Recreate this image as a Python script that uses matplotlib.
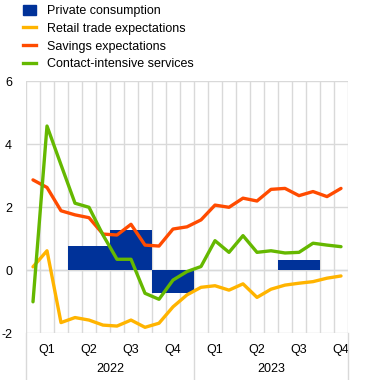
import matplotlib
matplotlib.use("Agg")
import matplotlib.pyplot as plt
from matplotlib.patches import Patch
from matplotlib.lines import Line2D
import numpy as np

plt.rcParams['font.family'] = ['Liberation Sans', 'DejaVu Sans']
plt.rcParams['axes.unicode_minus'] = False

# monthly data, Jan 2022 - Nov 2023
retail = [0.11, 0.62, -1.66, -1.50, -1.58, -1.74, -1.77, -1.58, -1.81, -1.68, -1.16, -0.78,
          -0.54, -0.49, -0.63, -0.43, -0.86, -0.60, -0.47, -0.41, -0.36, -0.25, -0.18]
savings = [2.87, 2.63, 1.89, 1.76, 1.67, 1.15, 1.12, 1.46, 0.80, 0.77, 1.31, 1.38,
           1.60, 2.07, 2.00, 2.29, 2.20, 2.57, 2.60, 2.37, 2.50, 2.34, 2.60]
contact = [-1.00, 4.58, 3.35, 2.13, 2.00, 1.12, 0.35, 0.35, -0.73, -0.92, -0.31, -0.04,
           0.12, 0.94, 0.57, 1.10, 0.57, 0.62, 0.55, 0.57, 0.86, 0.80, 0.75]

# quarterly private consumption, Q1 2022 - Q4 2023
consumption = [0.0, 0.78, 1.28, -0.73, 0.0, 0.0, 0.34, np.nan]
quarter_labels = ['Q1', 'Q2', 'Q3', 'Q4', 'Q1', 'Q2', 'Q3', 'Q4']
years = ['2022', '2023']

blue = '#003299'
yellow = '#FFB400'
red = '#FF4B00'
green = '#65B800'
grid = '#d9d9d9'

fig = plt.figure(figsize=(3.72, 3.80), dpi=100)
ax = fig.add_axes([26 / 372, 1 - 333.3 / 380, 322 / 372, 252 / 380])

months = np.arange(len(retail))
qpos = np.arange(len(consumption)) * 3 + 1

ax.bar(qpos, consumption, width=3, color=blue, zorder=2)
ax.axhline(0, color='#5b77b0', lw=0.8, zorder=1.5)
ax.plot(months, retail, color=yellow, lw=2.4, zorder=3, solid_capstyle='round')
ax.plot(months, savings, color=red, lw=2.4, zorder=3, solid_capstyle='round')
ax.plot(months, contact, color=green, lw=2.4, zorder=3, solid_capstyle='round')

ax.set_xlim(-0.5, 22.5)
ax.set_ylim(-2, 6)
ax.set_yticks([-2, 0, 2, 4, 6])
ax.set_xticks(qpos)
ax.set_xticklabels(quarter_labels)
ax.set_xticks(np.arange(-0.5, 23, 1), minor=True)
ax.grid(which='minor', axis='x', color=grid, lw=1, zorder=0)
ax.grid(which='major', axis='y', color=grid, lw=1, zorder=0)
ax.tick_params(which='both', length=0, labelsize=9, colors='black')
ax.tick_params(axis='x', pad=8)
ax.tick_params(axis='y', pad=10)
for s in ax.spines.values():
    s.set_visible(False)

# separators below the axis and year labels
trans = ax.get_xaxis_transform()
for xb in [-0.5, 11.5, 22.5]:
    ax.add_line(Line2D([xb, xb], [0, -0.2], transform=trans, color=grid, lw=1, clip_on=False))
ax.text(5.5, -0.14, years[0], transform=trans, ha='center', va='center', fontsize=9)
ax.text(17, -0.14, years[1], transform=trans, ha='center', va='center', fontsize=9)

handles = [Patch(color=blue),
           Line2D([], [], color=yellow, lw=2.4),
           Line2D([], [], color=red, lw=2.4),
           Line2D([], [], color=green, lw=2.4)]
labels = ['Private consumption', 'Retail trade expectations', 'Savings expectations',
          'Contact-intensive services']
fig.legend(handles, labels, loc='upper left', bbox_to_anchor=(18 / 372, 1.0), frameon=False,
           fontsize=9, handlelength=1.0, handleheight=0.8, handletextpad=0.9,
           labelspacing=0.45, borderaxespad=0.0)

fig.savefig('out.png', dpi=100)
